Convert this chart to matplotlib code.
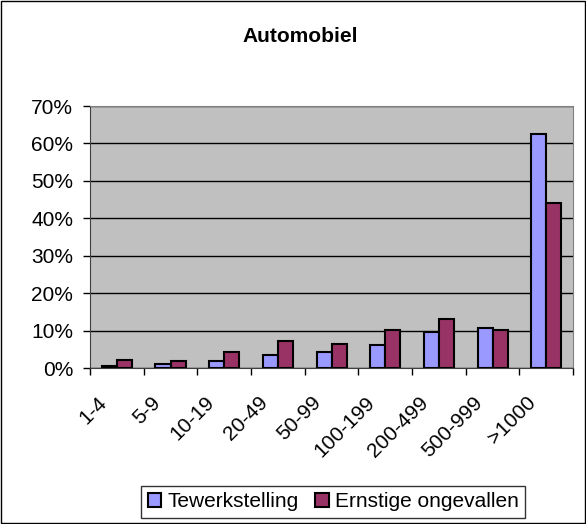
import numpy as np
import matplotlib.pyplot as plt
import matplotlib.transforms as mtransforms
from matplotlib.ticker import FuncFormatter, FixedLocator
from matplotlib.patches import Rectangle

plt.rcParams['font.family'] = ['Liberation Sans', 'DejaVu Sans']

# %% data
categories = ['1-4', '5-9', '10-19', '20-49', '50-99', '100-199', '200-499', '500-999', '>1000']
tewerkstelling = [0.5, 1.0, 1.8, 3.6, 4.2, 6.2, 9.6, 10.8, 62.6]
ongevallen = [2.2, 1.8, 4.4, 7.3, 6.5, 10.2, 13.1, 10.2, 44.2]

# %% plot
fig = plt.figure(figsize=(5.86, 5.24), dpi=100)
fig.patches.append(Rectangle((0.002, 0.002), 0.996, 0.996, transform=fig.transFigure,
                             fill=False, edgecolor='black', linewidth=1))
ax = fig.add_axes([0.1536, 0.2977, 0.8244, 0.5])

x = np.arange(len(categories))
w = 0.28
ax.bar(x - w/2, tewerkstelling, w, color='#9999FF', edgecolor='black', linewidth=1.5,
       label='Tewerkstelling', zorder=3)
ax.bar(x + w/2, ongevallen, w, color='#993366', edgecolor='black', linewidth=1.5,
       label='Ernstige ongevallen', zorder=3)

ax.set_facecolor('#C0C0C0')
ax.set_xlim(-0.5, len(categories) - 0.5)
ax.set_ylim(0, 70)
ax.set_yticks(np.arange(0, 71, 10))
ax.yaxis.set_major_formatter(FuncFormatter(lambda v, p: '{:.0f}%'.format(v)))
ax.yaxis.grid(True, color='black', linewidth=1, zorder=1)

ax.set_xticks(x)
ax.set_xticklabels(categories, rotation=45, ha='right', rotation_mode='anchor')
ax.xaxis.set_minor_locator(FixedLocator(np.arange(-0.5, len(categories), 1)))
ax.tick_params(axis='x', which='major', length=0, labelsize=15, pad=18)
ax.tick_params(axis='x', which='minor', length=5, width=1)
ax.tick_params(axis='y', length=5, width=1, labelsize=15, pad=7)
shift = mtransforms.ScaledTranslation(-0.2, 0, fig.dpi_scale_trans)
for lab in ax.get_xticklabels():
    lab.set_transform(lab.get_transform() + shift)

for side in ['top', 'right']:
    ax.spines[side].set_color('#808080')
for side in ['left', 'bottom']:
    ax.spines[side].set_color('#404040')

fig.text(0.512, 0.93, 'Automobiel', ha='center', va='center', fontsize=15, fontweight='bold')

fig.legend(loc='center', bbox_to_anchor=(0.569, 0.042), ncol=2, fontsize=15,
           frameon=True, fancybox=False, edgecolor='black', handlelength=0.65,
           handleheight=0.65, handletextpad=0.3, columnspacing=0.8, borderpad=0.3,
           borderaxespad=0)

fig.savefig('out.png', dpi=100)
